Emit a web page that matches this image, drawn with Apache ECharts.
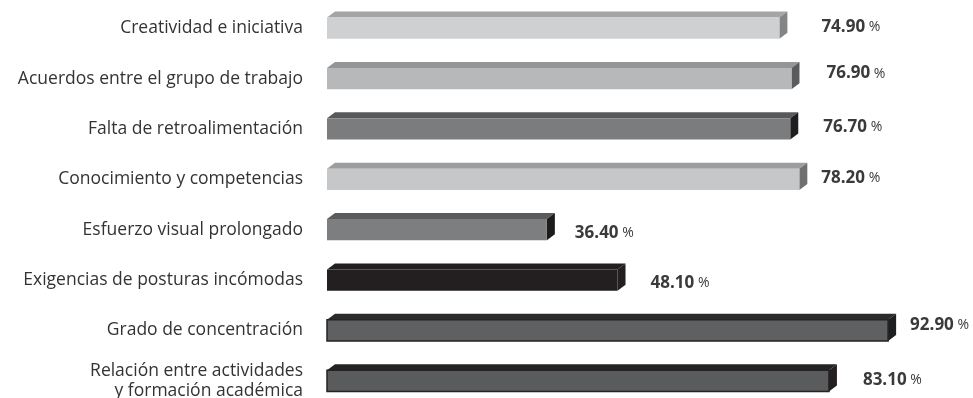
<!DOCTYPE html>
<html>
<head>
<meta charset="utf-8">
<script src="https://cdn.jsdelivr.net/npm/echarts@6/dist/echarts.min.js"></script>
<style>
  html, body { margin: 0; padding: 0; background: #ffffff; }
  #chart { width: 973px; height: 398px; }
</style>
</head>
<body>
<div id="chart"></div>
<script>
// Factores evaluados (de arriba hacia abajo)
const categories = [
  'Creatividad e iniciativa',
  'Acuerdos entre el grupo de trabajo',
  'Falta de retroalimentación',
  'Conocimiento y competencias',
  'Esfuerzo visual prolongado',
  'Exigencias de posturas incómodas',
  'Grado de concentración',
  'Relación entre actividades\ny formación académica'
];

// Porcentajes
const values = [74.9, 76.9, 76.7, 78.2, 36.4, 48.1, 92.9, 83.1];

// Tonos de cada barra: cara frontal, cara superior, cara lateral
const faceColors = [
  ['#cfd0d2', '#a4a5a7', '#838486'],
  ['#b7b8ba', '#949597', '#5a5b5d'],
  ['#7b7c7e', '#58595b', '#1e1e1e'],
  ['#c6c7c9', '#9c9d9f', '#6e6f71'],
  ['#7d7e80', '#5a5b5d', '#1c1c1c'],
  ['#231f20', '#231f20', '#231f20'],
  ['#5f6062', '#2b2b2b', '#1f1f1f'],
  ['#5a5b5d', '#252223', '#231f20']
];

// Ajuste fino de la posición de cada etiqueta de valor [dx, dy]
const labelNudge = [
  [42, -1], [35, -5], [33, -2], [22, -1],
  [28, 3], [33, 3], [22, -5], [34, -1]
];

const chart = echarts.init(document.getElementById('chart'), null, { renderer: 'canvas' });

const DEPTH_X = 8;
const DEPTH_Y = 6;

function renderItem(params, api) {
  const idx = params.dataIndex;
  const v = api.value(0);
  const cat = api.value(1);
  const p0 = api.coord([0, cat]);
  const p1 = api.coord([v, cat]);
  const band = api.size([0, 1])[1];
  const h = band * 0.42;
  const x0 = p0[0], x1 = p1[0], yc = p0[1];
  const y0 = yc - h / 2, y1 = yc + h / 2;
  const c = faceColors[idx];
  const outlined = idx >= 6;
  const children = [
    {
      type: 'polygon',
      shape: { points: [[x0, y0], [x0 + DEPTH_X, y0 - DEPTH_Y], [x1 + DEPTH_X, y0 - DEPTH_Y], [x1, y0]] },
      style: { fill: c[1] }
    },
    {
      type: 'polygon',
      shape: { points: [[x1, y0], [x1 + DEPTH_X, y0 - DEPTH_Y], [x1 + DEPTH_X, y1 - DEPTH_Y], [x1, y1]] },
      style: { fill: c[2] }
    },
    {
      type: 'rect',
      shape: { x: x0, y: y0, width: x1 - x0, height: h },
      style: outlined
        ? { fill: c[0], stroke: '#232323', lineWidth: 1.5 }
        : { fill: c[0] }
    }
  ];
  const n = labelNudge[idx];
  children.push({
    type: 'text',
    style: {
      x: x1 + n[0],
      y: yc + n[1],
      text: '{v|' + v.toFixed(2) + '}{p| %}',
      verticalAlign: 'middle',
      align: 'left',
      rich: {
        v: { fontFamily: 'Open Sans', fontWeight: 'bold', fontSize: 17, fill: '#3a3a3a' },
        p: { fontFamily: 'Open Sans', fontSize: 14, fill: '#3a3a3a' }
      }
    }
  });
  return { type: 'group', children: children };
}

chart.setOption({
  animation: false,
  backgroundColor: '#ffffff',
  grid: { left: 327, right: 42, top: 3, bottom: -8, outerBoundsMode: 'none', containLabel: false },
  xAxis: {
    type: 'value',
    min: 0,
    max: 100,
    show: false
  },
  yAxis: {
    type: 'category',
    data: categories,
    inverse: true,
    axisLine: { show: false },
    axisTick: { show: false },
    splitLine: { show: false },
    axisLabel: {
      margin: 24,
      fontFamily: 'Open Sans',
      fontSize: 17.5,
      color: '#333333',
      lineHeight: 20,
      align: 'right'
    }
  },
  series: [{
    type: 'custom',
    renderItem: renderItem,
    encode: { x: 0, y: 1 },
    data: values.map((v, i) => [v, i]),
    clip: false
  }]
});
</script>
</body>
</html>
